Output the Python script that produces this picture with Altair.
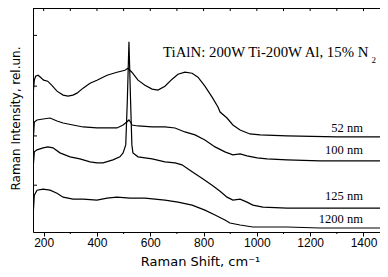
import altair as alt
import pandas as pd

# ---- data (Raman shift in cm^-1, intensity in arbitrary offset units)
x_52 = [161, 165, 170, 179, 188, 200, 215, 230, 250, 273, 291, 310, 325, 348, 374, 400, 438, 475, 505, 516,
        531, 554, 580, 607, 629, 655, 682, 704, 730, 757, 779, 805, 832, 854, 862, 888, 910, 937, 974, 1012,
        1113, 1300, 1492]
y_52 = [2.81, 3.05, 3.13, 3.15, 3.11, 3.05, 3.03, 2.95, 2.83, 2.75, 2.73, 2.75, 2.79, 2.89, 2.99, 3.05, 3.15, 3.21, 3.25, 3.29,
        3.21, 3.05, 2.95, 2.87, 2.85, 2.93, 3.07, 3.17, 3.21, 3.19, 3.11, 2.93, 2.71, 2.51, 2.41, 2.29, 2.15, 2.05, 1.97, 1.95,
        1.93, 1.91, 1.91]

x_100 = [161, 165, 175, 198, 224, 250, 273, 310, 348, 400, 438, 475, 498, 512, 520, 528, 531, 554, 607, 655,
         693, 730, 768, 805, 843, 880, 910, 937, 963, 1001, 1038, 1113, 1237, 1492]
y_100 = [1.85, 2.21, 2.25, 2.27, 2.29, 2.23, 2.19, 2.15, 2.11, 2.09, 2.09, 2.09, 2.15, 2.21, 2.25, 2.19, 2.15, 2.13, 2.11, 2.11,
         2.09, 2.01, 1.95, 1.85, 1.71, 1.61, 1.55, 1.57, 1.53, 1.49, 1.47, 1.45, 1.43, 1.43]

x_125 = [161, 165, 175, 198, 216, 235, 261, 299, 336, 374, 400, 423, 460, 486, 498, 508, 514, 520, 526, 531,
         535, 554, 607, 655, 693, 719, 757, 794, 832, 862, 888, 910, 937, 963, 985, 1023, 1113, 1237, 1492]
y_125 = [1.31, 1.61, 1.65, 1.69, 1.71, 1.69, 1.59, 1.51, 1.47, 1.41, 1.39, 1.39, 1.45, 1.51, 1.59, 1.75, 2.65, 3.82, 2.65, 1.75,
         1.59, 1.51, 1.47, 1.41, 1.39, 1.35, 1.21, 1.08, 0.94, 0.82, 0.70, 0.64, 0.66, 0.60, 0.54, 0.50, 0.48, 0.48, 0.48]

x_1200 = [161, 165, 175, 198, 224, 250, 273, 310, 348, 400, 438, 475, 524, 580, 655, 704, 757, 805, 843, 880,
          899, 937, 985, 1113, 1237, 1492]
y_1200 = [0.38, 0.74, 0.84, 0.86, 0.84, 0.78, 0.70, 0.66, 0.66, 0.64, 0.68, 0.70, 0.68, 0.68, 0.64, 0.60, 0.54, 0.44, 0.34, 0.24,
          0.18, 0.14, 0.10, 0.10, 0.08, 0.08]

label_text = ["52 nm", "100 nm", "125 nm", "1200 nm"]
label_x = [1398, 1398, 1398, 1398]
label_y = [2.01, 1.57, 0.64, 0.19]

title_main = "TiAlN: 200W Ti-200W Al, 15% N"
title_sub = "2"

x_label_ticks = [200, 400, 600, 800, 1000, 1200, 1400]
x_minor_ticks = [300, 500, 700, 900, 1100, 1300]
x_all_ticks = [200, 300, 400, 500, 600, 700, 800, 900, 1000, 1100, 1200, 1300, 1400]
y_ticks = [0.94, 1.93, 2.93, 3.95]

X_DOMAIN = [160, 1462]
Y_DOMAIN = [0, 4.5]

# ---- build tables
rows = []
for name, xs_, ys_ in [("52 nm", x_52, y_52), ("100 nm", x_100, y_100),
                       ("125 nm", x_125, y_125), ("1200 nm", x_1200, y_1200)]:
    for a, b in zip(xs_, ys_):
        rows.append({"shift": a, "intensity": b, "sample": name})
spectra = pd.DataFrame(rows)
labels = pd.DataFrame({"t": label_text, "x": label_x, "y": label_y})
heading = pd.DataFrame({"t": [title_main], "x": [648], "y": [3.515]})
heading_sub = pd.DataFrame({"t": [title_sub], "x": [1430], "y": [3.40]})
xt_all = pd.DataFrame({"v": x_all_ticks})
xt_minor = pd.DataFrame({"v": x_minor_ticks})
yt = pd.DataFrame({"v": y_ticks})

W, H = 347, 224
xs = alt.Scale(domain=X_DOMAIN, nice=False, zero=False)
ys = alt.Scale(domain=Y_DOMAIN, nice=False, zero=False)

lines = alt.Chart(spectra).mark_line(color="black", strokeWidth=1.2, clip=True).encode(
    x=alt.X("shift:Q", scale=xs,
            axis=alt.Axis(values=x_label_ticks, format="d", title="Raman Shift, cm⁻¹", grid=False,
                          domain=True, domainColor="black", domainWidth=1,
                          ticks=True, tickSize=4, tickColor="black",
                          labelFont="Liberation Sans", labelFontSize=12, labelColor="black",
                          labelPadding=1, titleFont="DejaVu Sans", titleFontSize=13,
                          titleFontWeight="normal", titleColor="black",
                          titleX=167, titleY=33, titleBaseline="alphabetic")),
    y=alt.Y("intensity:Q", scale=ys,
            axis=alt.Axis(values=y_ticks, labels=False, ticks=False, grid=False,
                          domain=True, domainColor="black", domainWidth=1,
                          title="Raman Intensity, rel.un.", titleFont="DejaVu Sans",
                          titleFontSize=12, titleFontWeight="normal", titleColor="black",
                          titleX=-14, titleY=110, titleBaseline="alphabetic", titleAngle=270)),
    detail="sample:N",
)

top_frame = alt.Chart(xt_all).mark_rule(color="black", strokeWidth=1).encode(
    x=alt.value(0), x2=alt.value(W), y=alt.value(0.5))
minor_bottom = alt.Chart(xt_minor).mark_rule(color="black", strokeWidth=1).encode(
    x=alt.X("v:Q", scale=xs), y=alt.value(H), y2=alt.value(H + 2))
top_ticks = alt.Chart(xt_all).mark_rule(color="black", strokeWidth=1).encode(
    x=alt.X("v:Q", scale=xs), y=alt.value(0), y2=alt.value(3))
left_ticks = alt.Chart(yt).mark_rule(color="black", strokeWidth=1).encode(
    y=alt.Y("v:Q", scale=ys), x=alt.value(0), x2=alt.value(4))

lab = alt.Chart(labels).mark_text(align="right", baseline="alphabetic", font="Liberation Serif",
                                  fontSize=12.5, color="black").encode(
    x=alt.X("x:Q", scale=xs), y=alt.Y("y:Q", scale=ys), text="t:N")
head = alt.Chart(heading).mark_text(align="left", baseline="alphabetic", font="Liberation Serif",
                                    fontSize=14.8, color="black").encode(
    x=alt.X("x:Q", scale=xs), y=alt.Y("y:Q", scale=ys), text="t:N")
head_sub = alt.Chart(heading_sub).mark_text(align="left", baseline="alphabetic", font="Liberation Serif",
                                            fontSize=9, color="black").encode(
    x=alt.X("x:Q", scale=xs), y=alt.Y("y:Q", scale=ys), text="t:N")

chart = alt.layer(lines, top_frame, minor_bottom, top_ticks, left_ticks, lab, head, head_sub).properties(
    width=W, height=H,
    autosize=alt.AutoSizeParams(type="none"),
    padding={"left": 25, "top": 0, "right": 0, "bottom": 37},
).configure_view(stroke=None).configure(background="white")

chart.save("out.html", embed_options={"renderer": "svg", "actions": False})
